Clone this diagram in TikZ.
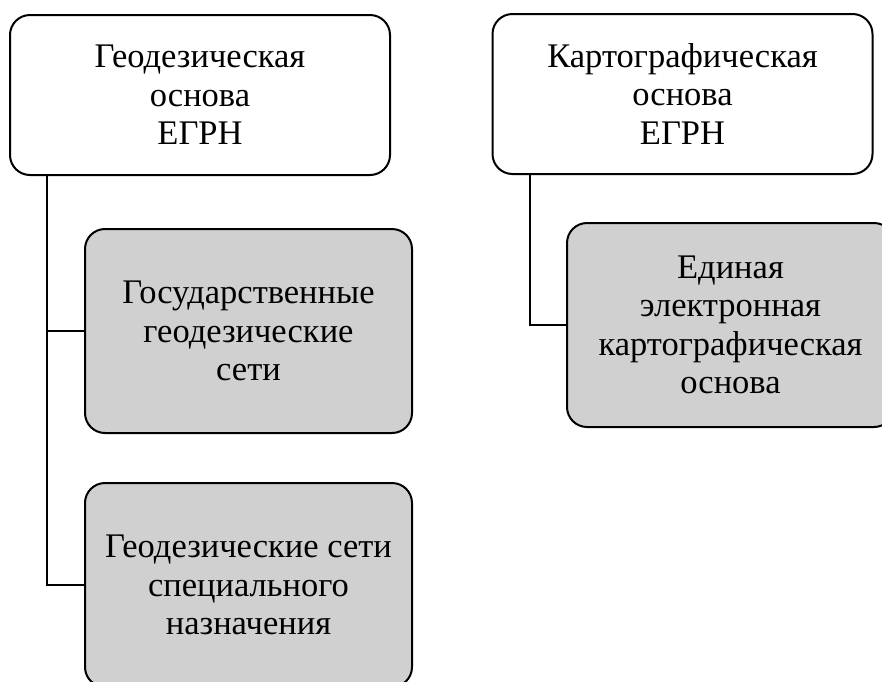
\documentclass[tikz,border=0pt]{standalone}
\usepackage{fontspec}
\setmainfont{Liberation Serif}
\definecolor{boxgray}{RGB}{208,208,208}
\begin{document}
\begin{tikzpicture}[x=1pt,y=-1pt,
  box/.style={draw=black, line width=2pt, rounded corners=20pt, align=center,
    inner sep=0pt, font=\fontsize{34.5}{38.5}\selectfont},
  topbox/.style={box, fill=white, minimum width=380pt, minimum height=160pt},
  subbox/.style={box, fill=boxgray, minimum width=327pt, minimum height=204pt},
  link/.style={draw=black, line width=2pt}]
\useasboundingbox (0,0) rectangle (882,681);
\clip (0,0) rectangle (882,681);
\fill[white] (0,0) rectangle (882,681);
\node[topbox] (g1) at (200,95) {Геодезическая\\основа\\ЕГРН};
\node[topbox] (k1) at (682.5,94) {Картографическая\\основа\\ЕГРН};
\node[subbox] (g2) at (248.5,331) {Государственные\\геодезические\\сети};
\node[subbox] (g3) at (248.5,585) {Геодезические сети\\специального\\назначения};
\node[subbox] (k2) at (730.5,325) {Единая\\электронная\\картографическая\\основа};
\draw[link] ([xshift=38pt]g1.south west) |- (g3.west);
\draw[link] ([xshift=38pt]g1.south west) |- (g2.west);
\draw[link] ([xshift=38pt]k1.south west) |- (k2.west);
\end{tikzpicture}
\end{document}
